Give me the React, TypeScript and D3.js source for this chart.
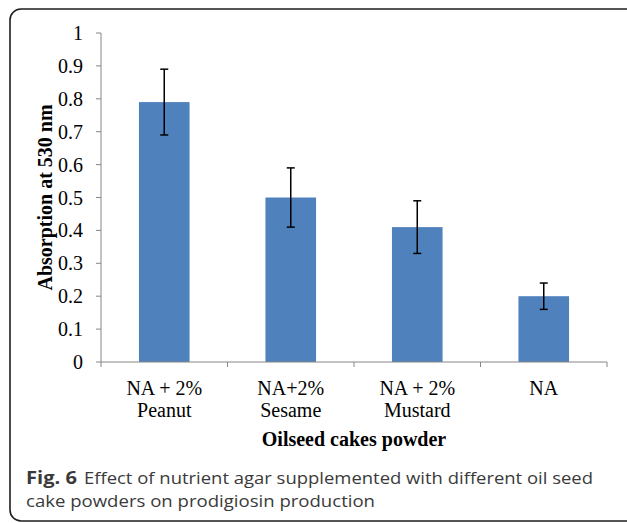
import React from "react";
import * as d3 from "d3";

// Absorption at 530 nm for each growth medium, with standard deviation
const categories = ["NA + 2% Peanut", "NA+2% Sesame", "NA + 2% Mustard", "NA"];
const labelLine1 = ["NA + 2%", "NA+2%", "NA + 2%", "NA"];
const labelLine2 = ["Peanut", "Sesame", "Mustard", ""];
const absorption = [0.79, 0.5, 0.41, 0.2];
const errors = [0.1, 0.09, 0.08, 0.04];
const yTicks = [0, 0.1, 0.2, 0.3, 0.4, 0.5, 0.6, 0.7, 0.8, 0.9, 1];

const W = 627;
const H = 523;
const plot = { left: 101, right: 607, top: 33, bottom: 362 };

const serif = "'Liberation Serif', 'Times New Roman', serif";
const sans = "'Open Sans', 'Noto Sans', sans-serif";

export default function App() {
  const x = d3
    .scaleBand<string>()
    .domain(categories)
    .range([plot.left, plot.right])
    .paddingInner(0.6)
    .paddingOuter(0.3);
  const y = d3.scaleLinear().domain([0, 1]).range([plot.bottom, plot.top]);

  const step = x.step();
  const boundaries = d3.range(categories.length + 1).map((i) => plot.left + i * step);
  const axisColor = "#868686";

  return (
    <svg
      width={W}
      height={H}
      style={{ position: "absolute", left: 0, top: 0, display: "block", background: "#fff" }}
    >
      <rect x={10} y={9} width={W + 10} height={512} rx={11} ry={11} fill="#fff" stroke="#1e1e1e" strokeWidth={1.6} />

      {/* bars */}
      {categories.map((c, i) => (
        <rect
          key={c}
          x={x(c)}
          y={y(absorption[i])}
          width={x.bandwidth()}
          height={y(0) - y(absorption[i])}
          fill="#4f81bd"
        />
      ))}

      {/* error bars */}
      {categories.map((c, i) => {
        const cx = (x(c) as number) + x.bandwidth() / 2;
        const hi = y(absorption[i] + errors[i]);
        const lo = y(absorption[i] - errors[i]);
        return (
          <g key={c} stroke="#000" strokeWidth={1.5}>
            <line x1={cx} x2={cx} y1={hi} y2={lo} />
            <line x1={cx - 4} x2={cx + 4} y1={hi} y2={hi} />
            <line x1={cx - 4} x2={cx + 4} y1={lo} y2={lo} />
          </g>
        );
      })}

      {/* y axis */}
      <line x1={plot.left} x2={plot.left} y1={plot.top} y2={plot.bottom} stroke={axisColor} strokeWidth={1} />
      {yTicks.map((t) => (
        <g key={t}>
          <line x1={plot.left - 5} x2={plot.left} y1={y(t)} y2={y(t)} stroke={axisColor} strokeWidth={1} />
          <text
            x={83}
            y={y(t)}
            dy="0.35em"
            textAnchor="end"
            fontFamily={serif}
            fontSize={20}
            fill="#000"
          >
            {d3.format("")(t)}
          </text>
        </g>
      ))}

      {/* x axis */}
      <line x1={plot.left} x2={plot.right} y1={plot.bottom} y2={plot.bottom} stroke={axisColor} strokeWidth={1} />
      {boundaries.map((bx, i) => (
        <line key={i} x1={bx} x2={bx} y1={plot.bottom} y2={plot.bottom + 5} stroke={axisColor} strokeWidth={1} />
      ))}
      {categories.map((c, i) => {
        const cx = (x(c) as number) + x.bandwidth() / 2;
        return (
          <text key={c} textAnchor="middle" fontFamily={serif} fontSize={20} fill="#000">
            <tspan x={cx} y={395}>{labelLine1[i]}</tspan>
            {labelLine2[i] && <tspan x={cx} y={417}>{labelLine2[i]}</tspan>}
          </text>
        );
      })}

      {/* axis titles */}
      <text
        x={(plot.left + plot.right) / 2}
        y={446}
        textAnchor="middle"
        fontFamily={serif}
        fontSize={20}
        fontWeight="bold"
        fill="#000"
      >
        Oilseed cakes powder
      </text>
      <text
        transform={`translate(52, ${(plot.top + plot.bottom) / 2}) rotate(-90)`}
        textAnchor="middle"
        fontFamily={serif}
        fontSize={20}
        fontWeight="bold"
        fill="#000"
      >
        Absorption at 530 nm
      </text>

      {/* caption */}
      <g fontFamily={sans} fontSize={17} fill="#3a3a3a">
        <text x={26} y={483.5} fontWeight="bold" textLength={51} lengthAdjust="spacingAndGlyphs">
          Fig. 6
        </text>
        <text x={84} y={483.5} textLength={509} lengthAdjust="spacingAndGlyphs">
          Effect of nutrient agar supplemented with different oil seed
        </text>
        <text x={26} y={507} textLength={349} lengthAdjust="spacingAndGlyphs">
          cake powders on prodigiosin production
        </text>
      </g>
    </svg>
  );
}
